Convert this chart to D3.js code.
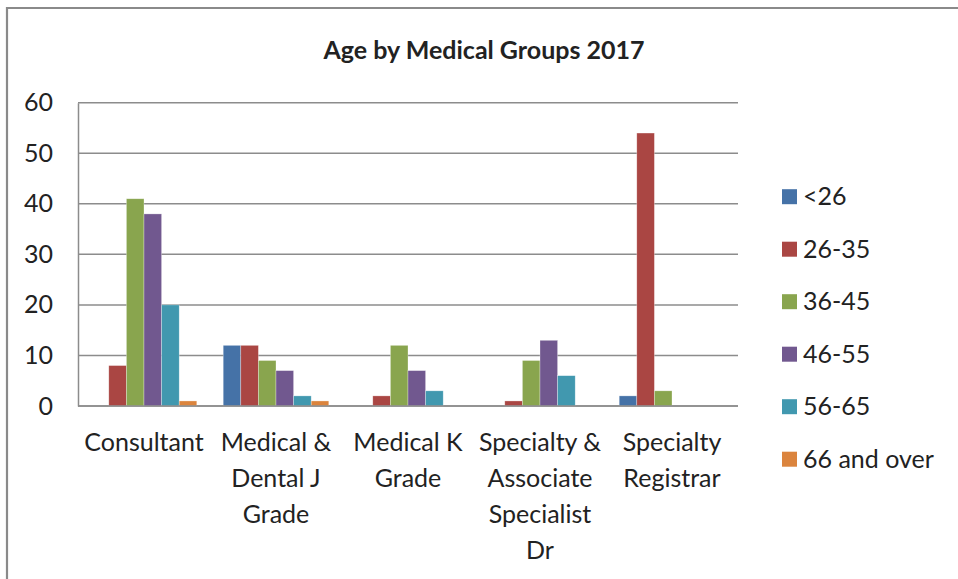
<!DOCTYPE html>
<html>
<head>
<meta charset="utf-8">
<script src="https://cdn.jsdelivr.net/npm/d3@7"></script>
<style>
  html, body { margin: 0; padding: 0; background: #fff; }
  svg { display: block; }
  text { font-family: Lato, "Open Sans", sans-serif; fill: #222; }
</style>
</head>
<body>
<svg id="chart" width="958" height="579"></svg>
<script>
// Staff counts by medical group and age band, 2017
const categories = [
  "Consultant",
  "Medical & Dental J Grade",
  "Medical K Grade",
  "Specialty & Associate Specialist Dr",
  "Specialty Registrar"
];
const categoryLines = [
  ["Consultant"],
  ["Medical &", "Dental J", "Grade"],
  ["Medical K", "Grade"],
  ["Specialty &", "Associate", "Specialist", "Dr"],
  ["Specialty", "Registrar"]
];
const seriesNames = ["<26", "26-35", "36-45", "46-55", "56-65", "66 and over"];
const under26   = [0, 12, 0, 0, 2];
const age26to35 = [8, 12, 2, 1, 54];
const age36to45 = [41, 9, 12, 9, 3];
const age46to55 = [38, 7, 7, 13, 0];
const age56to65 = [20, 2, 3, 6, 0];
const age66plus = [1, 1, 0, 0, 0];
const seriesValues = [under26, age26to35, age36to45, age46to55, age56to65, age66plus];
const colors = ["#4572A7", "#AA4643", "#89A54E", "#71588F", "#4198AF", "#DB843D"];
const yTicks = [0, 10, 20, 30, 40, 50, 60];

const svg = d3.select("#chart");
const plot = { left: 78, right: 738, top: 102.7, bottom: 406 };
const fontSize = 25;

// Outer frame (top and left edges visible)
svg.append("path")
  .attr("d", "M7,579 L7,8 L958,8")
  .attr("fill", "none")
  .attr("stroke", "#8a8a8a")
  .attr("stroke-width", 2.2);

// Title
svg.append("text")
  .attr("x", 484).attr("y", 59)
  .attr("text-anchor", "middle")
  .attr("font-weight", "bold")
  .attr("font-size", 25)
  .text("Age by Medical Groups 2017");

const x0 = d3.scaleBand().domain(categories).range([plot.left, plot.right]).paddingInner(0).paddingOuter(0);
// Each category holds 6 bars plus a 1.5-bar gap split on both sides
const x1 = d3.scaleBand().domain(seriesNames)
  .range([x0.bandwidth() * 0.75 / 7.5, x0.bandwidth() - x0.bandwidth() * 0.75 / 7.5]);
const y = d3.scaleLinear().domain([0, 60]).range([plot.bottom, plot.top]);

// Gridlines
svg.append("g")
  .selectAll("line")
  .data(yTicks)
  .join("line")
  .attr("x1", plot.left).attr("x2", plot.right)
  .attr("y1", d => y(d)).attr("y2", d => y(d))
  .attr("stroke", "#8c8c8c")
  .attr("stroke-width", 1.5);

// Y axis
const yAxis = svg.append("g")
  .attr("transform", `translate(${plot.left},0)`)
  .call(d3.axisLeft(y).tickValues(yTicks).tickSize(0).tickPadding(25));
yAxis.select(".domain").attr("stroke", "#8c8c8c").attr("stroke-width", 1.5);
yAxis.selectAll("text")
  .attr("font-size", fontSize)
  .attr("font-family", "Lato, sans-serif")
  .attr("fill", "#222");

// Bars
const groups = svg.append("g")
  .selectAll("g")
  .data(categories)
  .join("g")
  .attr("transform", d => `translate(${x0(d)},0)`);

groups.selectAll("rect")
  .data((c, i) => seriesNames.map((s, j) => ({ s, v: seriesValues[j][i], color: colors[j] })))
  .join("rect")
  .filter(d => d.v > 0)
  .attr("x", d => x1(d.s))
  .attr("width", x1.bandwidth())
  .attr("y", d => y(d.v))
  .attr("height", d => y(0) - y(d.v))
  .attr("fill", d => d.color)
  .attr("stroke", "#ffffff")
  .attr("stroke-opacity", 0.5)
  .attr("stroke-width", 0.6);

// X axis line
svg.append("line")
  .attr("x1", plot.left).attr("x2", plot.right)
  .attr("y1", y(0)).attr("y2", y(0))
  .attr("stroke", "#8c8c8c")
  .attr("stroke-width", 1.5);

// Category labels
const labels = svg.append("g")
  .selectAll("text")
  .data(categories)
  .join("text")
  .attr("text-anchor", "middle")
  .attr("font-size", fontSize)
  .attr("x", d => x0(d) + x0.bandwidth() / 2)
  .attr("y", 451);
labels.each(function (d, i) {
  d3.select(this).selectAll("tspan")
    .data(categoryLines[i])
    .join("tspan")
    .attr("x", x0(d) + x0.bandwidth() / 2)
    .attr("dy", (t, k) => k === 0 ? 0 : 36)
    .text(t => t);
});

// Legend
const legend = svg.append("g")
  .selectAll("g")
  .data(seriesNames)
  .join("g")
  .attr("transform", (d, i) => `translate(782,${196.7 + i * 52.5})`);
legend.append("rect")
  .attr("x", 0).attr("y", -7.5)
  .attr("width", 15).attr("height", 15)
  .attr("fill", (d, i) => colors[i]);
legend.append("text")
  .attr("x", 21).attr("y", 8.5)
  .attr("font-size", fontSize)
  .text(d => d);
</script>
</body>
</html>
